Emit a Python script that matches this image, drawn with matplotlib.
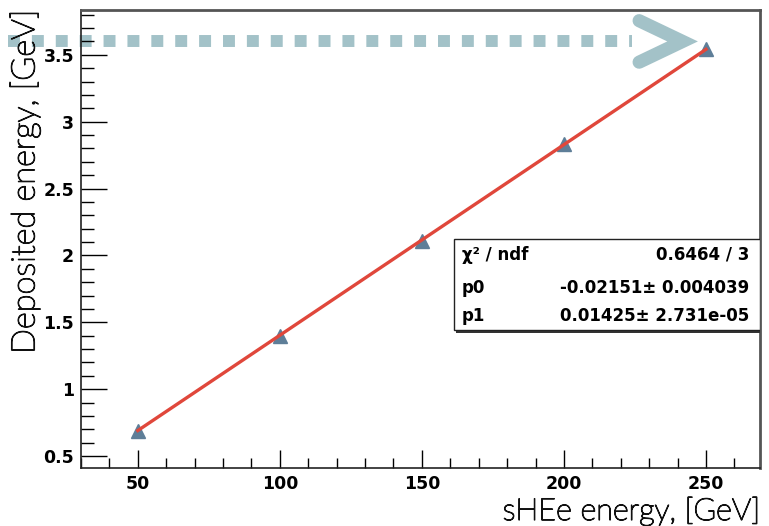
import matplotlib.pyplot as plt
import matplotlib.transforms as mtransforms
import matplotlib.patheffects as pe
from matplotlib.patches import Rectangle
from matplotlib.ticker import MultipleLocator
import numpy as np

# Measured points
beam_energy = [50, 100, 150, 200, 250]
deposited = [0.685, 1.395, 2.110, 2.830, 3.540]

# Linear fit result (p0 + p1*x)
p0, p0_err = -0.02151, 0.004039
p1, p1_err = 0.01425, 2.731e-05
chi2_text = "0.6464 / 3"

arrow_level = 3.6

marker_col = '#5e7e98'
fit_col = '#e0473b'
arrow_col = '#a3c2c8'

fig = plt.figure(figsize=(7.69, 5.26), dpi=100)
ax = fig.add_axes([0.1053, 0.110, 0.8830, 0.871])

xfit = np.linspace(beam_energy[0], beam_energy[-1], 200)
ax.plot(xfit, p0 + p1 * xfit, color=fit_col, lw=2.4, zorder=3)
ax.plot(beam_energy, deposited, '^', color=marker_col, ms=10, mec=marker_col, zorder=2)

ax.set_xlim(30, 269)
ax.set_ylim(0.41, 3.835)
ax.xaxis.set_major_locator(MultipleLocator(50))
ax.xaxis.set_minor_locator(MultipleLocator(10))
ax.yaxis.set_minor_locator(MultipleLocator(0.1))
ax.set_yticks([0.5, 1, 1.5, 2, 2.5, 3, 3.5])
ax.set_yticklabels(['0.5', '1', '1.5', '2', '2.5', '3', '3.5'])
ax.tick_params(which='both', direction='in', top=False, right=False)
ax.tick_params(axis='y', which='major', length=19, width=1, pad=5)
ax.tick_params(axis='y', which='minor', length=9, width=1)
ax.tick_params(axis='x', which='major', length=13, width=1, pad=5)
ax.tick_params(axis='x', which='minor', length=7, width=1)
for lab in ax.get_xticklabels() + ax.get_yticklabels():
    lab.set_fontfamily('DejaVu Sans')
    lab.set_fontweight('bold')
    lab.set_fontsize(12.5)

for side in ['left', 'bottom']:
    ax.spines[side].set_linewidth(1.2)
    ax.spines[side].set_color('#222222')
for side in ['top', 'right']:
    ax.spines[side].set_linewidth(2)
    ax.spines[side].set_color('#555555')

# thin font thickened a little with a stroke
thicken = [pe.withStroke(linewidth=0.9, foreground='#111111')]
lab_font = dict(family='Lato', weight='light', color='#111111', path_effects=thicken)
fig.text(0.988, 0.0, 'sHEe energy, [GeV]', ha='right', va='bottom', fontsize=22, **lab_font)
fig.text(0.032, 0.981, 'Deposited energy, [GeV]', ha='center', va='top', rotation=90,
         fontsize=23.5, **lab_font)

# Dotted arrow pointing at the deposited energy level
trans = mtransforms.blended_transform_factory(ax.transAxes, ax.transData)
ax.plot([-0.108, 0.812], [arrow_level, arrow_level], transform=trans, color=arrow_col,
        lw=8.6, ls=(0, (1, 1)), solid_capstyle='butt', dash_capstyle='butt',
        clip_on=False, zorder=1)
ax.plot([0.822, 0.886, 0.822], [arrow_level + 0.155, arrow_level, arrow_level - 0.155],
        transform=trans, color=arrow_col, lw=9.5, solid_capstyle='round',
        solid_joinstyle='miter', clip_on=False, zorder=1)

# Fit statistics box
bx0, by0, bw, bh = 0.549, 0.301, 0.451, 0.199
shadow = Rectangle((bx0 + 0.003, by0 - 0.005), bw, bh, transform=ax.transAxes,
                   facecolor='#333333', edgecolor='none', zorder=4)
box = Rectangle((bx0, by0), bw, bh, transform=ax.transAxes,
                facecolor='white', edgecolor='#222222', lw=1, zorder=5)
ax.add_patch(shadow)
ax.add_patch(box)

st_font = dict(family='DejaVu Sans', weight='bold', fontsize=12, zorder=6,
               transform=ax.transAxes, va='center')
rows = [('\u03c7\u00b2 / ndf', chi2_text),
        ('p0', '%.5f\u00b1 %.6f' % (p0, p0_err)),
        ('p1', '%.5f\u00b1 %.3fe-05' % (p1, p1_err * 1e5))]
row_y = [0.466, 0.394, 0.331]
for (name, val), yy in zip(rows, row_y):
    ax.text(bx0 + 0.012, yy, name, ha='left', **st_font)
    ax.text(bx0 + bw - 0.016, yy, val, ha='right', **st_font)

fig.savefig('out.png', dpi=100)
